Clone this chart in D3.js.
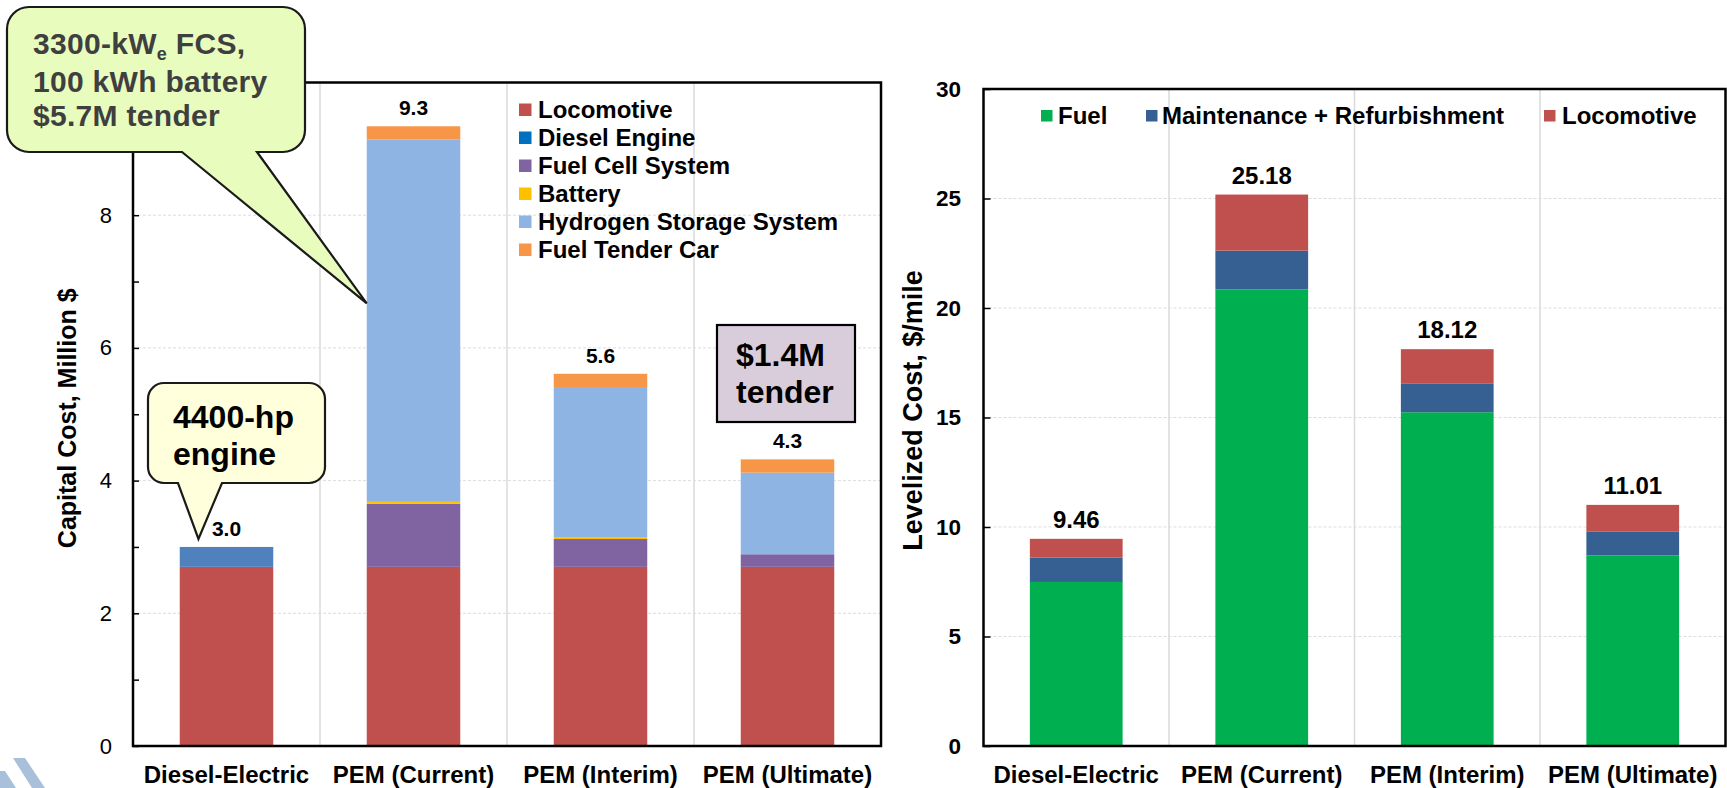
<!DOCTYPE html>
<html>
<head>
<meta charset="utf-8">
<script src="https://cdn.jsdelivr.net/npm/d3@7"></script>
<style>
  html, body { margin: 0; padding: 0; background: #fff; }
  svg { display: block; font-family: "Liberation Sans", Arial, Helvetica, sans-serif; }
</style>
</head>
<body>
<svg id="chart" width="1727" height="788"></svg>
<script>
// ---------- data ----------
const categories = ["Diesel-Electric", "PEM (Current)", "PEM (Interim)", "PEM (Ultimate)"];

// capital cost components, million $
const capitalSeries = ["Locomotive", "Diesel Engine", "Fuel Cell System", "Battery", "Hydrogen Storage System", "Fuel Tender Car"];
const locomotiveCap = [2.70, 2.70, 2.70, 2.70];
const dieselEngineCap = [0.30, 0, 0, 0];
const fuelCellCap = [0, 0.95, 0.42, 0.19];
const batteryCap = [0, 0.03, 0.02, 0];
const h2StorageCap = [0, 5.46, 2.27, 1.23];
const tenderCarCap = [0, 0.20, 0.20, 0.20];
const capitalTicks = [0, 2, 4, 6, 8];
const capitalMinorTicks = [1, 3, 5, 7, 9];

// levelized cost components, $/mile
const levelizedSeries = ["Fuel", "Maintenance + Refurbishment", "Locomotive"];
const fuelLev = [7.49, 20.85, 15.24, 8.70];
const maintenanceLev = [1.12, 1.77, 1.32, 1.10];
const locomotiveLev = [0.85, 2.56, 1.56, 1.21];
const levelizedTicks = [0, 5, 10, 15, 20, 25, 30];

// ---------- styles ----------
const capitalColors = {
  "Locomotive": "#C0504D",
  "Diesel Engine": "#4F81BD",
  "Fuel Cell System": "#8064A2",
  "Battery": "#FFC000",
  "Hydrogen Storage System": "#8EB4E3",
  "Fuel Tender Car": "#F79646"
};
const capitalSwatch = Object.assign({}, capitalColors, { "Diesel Engine": "#0070C0" });
const levelizedColors = {
  "Fuel": "#00B050",
  "Maintenance + Refurbishment": "#376092",
  "Locomotive": "#C0504D"
};

const svg = d3.select("#chart");
svg.append("rect").attr("width", 1727).attr("height", 788).attr("fill", "#fff");

// faint logo corner
const logo = svg.append("g").attr("fill", "#A8C0DA");
logo.append("polygon").attr("points", "13,758 25,758 45,788 32,788");
logo.append("polygon").attr("points", "0,771 5,771 16,788 0,788");

// ---------- tables ----------
const capitalTable = categories.map((c, i) => ({
  category: c,
  "Locomotive": locomotiveCap[i],
  "Diesel Engine": dieselEngineCap[i],
  "Fuel Cell System": fuelCellCap[i],
  "Battery": batteryCap[i],
  "Hydrogen Storage System": h2StorageCap[i],
  "Fuel Tender Car": tenderCarCap[i]
}));
const levelizedTable = categories.map((c, i) => ({
  category: c,
  "Fuel": fuelLev[i],
  "Maintenance + Refurbishment": maintenanceLev[i],
  "Locomotive": locomotiveLev[i]
}));

// ---------- generic stacked panel ----------
function drawPanel(cfg) {
  const g = svg.append("g");
  const x = d3.scaleBand().domain(categories)
    .range([cfg.left, cfg.right]).paddingInner(0.5).paddingOuter(0.25);
  const y = d3.scaleLinear().domain(cfg.domain).range([cfg.bottom, cfg.top]);
  const step = x.step();

  // gridlines
  const grid = g.append("g");
  grid.selectAll("line.h").data(cfg.ticks.filter(t => t > cfg.domain[0] && t < cfg.domain[1]))
    .join("line").attr("class", "h")
    .attr("x1", cfg.left).attr("x2", cfg.right)
    .attr("y1", d => y(d)).attr("y2", d => y(d))
    .attr("stroke", "#DDDDDD").attr("stroke-width", 1).attr("stroke-dasharray", "3,2");
  grid.selectAll("line.v").data(categories.slice(1))
    .join("line").attr("class", "v")
    .attr("x1", d => x(d) - step * 0.25).attr("x2", d => x(d) - step * 0.25)
    .attr("y1", cfg.top).attr("y2", cfg.bottom)
    .attr("stroke", "#DADADA").attr("stroke-width", 1.5);

  // stacked bars
  const layers = d3.stack().keys(cfg.keys)(cfg.table);
  g.append("g").selectAll("g").data(layers).join("g")
    .attr("fill", d => cfg.colors[d.key])
    .selectAll("rect").data(d => d.filter(v => v[1] - v[0] > 0)).join("rect")
    .attr("x", d => x(d.data.category))
    .attr("width", x.bandwidth())
    .attr("y", d => y(d[1]))
    .attr("height", d => y(d[0]) - y(d[1]));

  // axis ticks and labels
  const axis = g.append("g").attr("transform", `translate(${cfg.left},0)`)
    .call(d3.axisLeft(y).tickValues(cfg.ticks).tickSize(-cfg.tickLen).tickPadding(cfg.tickPad));
  axis.select(".domain").remove();
  axis.selectAll(".tick line").attr("stroke", "#000").attr("stroke-width", 1.5);
  axis.selectAll(".tick text")
    .attr("font-family", null)
    .attr("font-size", cfg.tickFont)
    .attr("font-weight", cfg.tickWeight)
    .attr("fill", "#000");
  if (cfg.minorTicks) {
    const minor = g.append("g").attr("transform", `translate(${cfg.left},0)`)
      .call(d3.axisLeft(y).tickValues(cfg.minorTicks).tickSize(-cfg.tickLen).tickFormat(""));
    minor.select(".domain").remove();
    minor.selectAll(".tick line").attr("stroke", "#000").attr("stroke-width", 1.5);
  }

  // frame
  g.append("rect")
    .attr("x", cfg.left).attr("y", cfg.top)
    .attr("width", cfg.right - cfg.left).attr("height", cfg.bottom - cfg.top)
    .attr("fill", "none").attr("stroke", "#000").attr("stroke-width", 2.5);

  // category labels
  g.append("g").selectAll("text").data(categories).join("text")
    .attr("x", d => x(d) + x.bandwidth() / 2)
    .attr("y", 783)
    .attr("text-anchor", "middle")
    .attr("font-size", 24).attr("font-weight", "bold").attr("fill", "#000")
    .text(d => d);

  // totals above bars
  g.append("g").selectAll("text").data(cfg.table).join("text")
    .attr("x", d => x(d.category) + x.bandwidth() / 2)
    .attr("y", d => y(d3.sum(cfg.keys, k => d[k])) - 11)
    .attr("text-anchor", "middle")
    .attr("font-size", cfg.valueFont).attr("font-weight", "bold").attr("fill", "#000")
    .text(d => d3.sum(cfg.keys, k => d[k]).toFixed(cfg.decimals));

  // axis title
  g.append("text")
    .attr("transform", `translate(${cfg.titleX},${(cfg.top + cfg.bottom) / 2 + cfg.titleShift}) rotate(-90)`)
    .attr("text-anchor", "middle")
    .attr("font-size", cfg.titleFont).attr("font-weight", "bold").attr("fill", "#000")
    .text(cfg.title);

  return { x, y, g };
}

// ---------- capital cost panel ----------
const left = drawPanel({
  left: 133, right: 881, top: 82.5, bottom: 746,
  domain: [0, 10], ticks: capitalTicks, minorTicks: capitalMinorTicks,
  tickLen: 6, tickPad: 21, tickFont: 22, tickWeight: "normal",
  keys: capitalSeries, colors: capitalColors, table: capitalTable,
  valueFont: 21, decimals: 1,
  title: "Capital Cost, Million $", titleX: 76, titleFont: 25, titleShift: 4
});

// legend
const legL = svg.append("g");
capitalSeries.forEach((s, i) => {
  const cy = 110 + i * 28;
  legL.append("rect").attr("x", 519).attr("y", cy - 6.5).attr("width", 12.5).attr("height", 12.5)
    .attr("fill", capitalSwatch[s]);
  legL.append("text").attr("x", 538).attr("y", cy + 8)
    .attr("font-size", 24).attr("font-weight", "bold").attr("fill", "#000").text(s);
});

// ---------- levelized cost panel ----------
const right = drawPanel({
  left: 983.5, right: 1725.5, top: 89, bottom: 746,
  domain: [0, 30], ticks: levelizedTicks, minorTicks: null,
  tickLen: 7, tickPad: 22.5, tickFont: 22.5, tickWeight: "bold",
  keys: levelizedSeries, colors: levelizedColors, table: levelizedTable,
  valueFont: 24, decimals: 2,
  title: "Levelized Cost, $/mile", titleX: 922, titleFont: 27, titleShift: -7
});

const legR = svg.append("g");
const legRX = [[1041, 1058], [1146, 1162], [1544, 1562]];
levelizedSeries.forEach((s, i) => {
  legR.append("rect").attr("x", legRX[i][0]).attr("y", 110).attr("width", 11.5).attr("height", 11.5)
    .attr("fill", levelizedColors[s]);
  legR.append("text").attr("x", legRX[i][1]).attr("y", 123.5)
    .attr("font-size", 24).attr("font-weight", "bold").attr("fill", "#000").text(s);
});

// ---------- annotations ----------
function calloutPath(x0, y0, x1, y1, r, b1, b2, tip) {
  const p = d3.path();
  p.moveTo(x0 + r, y0);
  p.lineTo(x1 - r, y0);
  p.arcTo(x1, y0, x1, y0 + r, r);
  p.lineTo(x1, y1 - r);
  p.arcTo(x1, y1, x1 - r, y1, r);
  p.lineTo(b2, y1);
  p.lineTo(tip[0], tip[1]);
  p.lineTo(b1, y1);
  p.lineTo(x0 + r, y1);
  p.arcTo(x0, y1, x0, y1 - r, r);
  p.lineTo(x0, y0 + r);
  p.arcTo(x0, y0, x0 + r, y0, r);
  p.closePath();
  return p.toString();
}

const ann = svg.append("g");

// fuel-cell configuration note pointing at the current PEM bar
const tipCurrent = [left.x("PEM (Current)"), left.y(6.67)];
ann.append("path")
  .attr("d", calloutPath(7, 7, 305, 152, 22, 182, 257, tipCurrent))
  .attr("fill", "#E8FCBE").attr("stroke", "#1A1A1A").attr("stroke-width", 2.2);
const noteA = ann.append("g").attr("font-size", 30).attr("font-weight", "bold")
  .attr("fill", "#3F3F3F").attr("letter-spacing", 0.3);
const lineA1 = noteA.append("text").attr("x", 33).attr("y", 54);
lineA1.append("tspan").text("3300-kW");
lineA1.append("tspan").attr("font-size", 18).attr("dy", 6).text("e");
lineA1.append("tspan").attr("dy", -6).text(" FCS,");
noteA.append("text").attr("x", 33).attr("y", 92).text("100 kWh battery");
noteA.append("text").attr("x", 33).attr("y", 126).text("$5.7M tender");

// diesel engine note
const tipDiesel = [left.x("Diesel-Electric") + left.x.bandwidth() * 0.2, left.y(3.12)];
ann.append("path")
  .attr("d", calloutPath(148, 383, 325, 483, 16, 178, 222, tipDiesel))
  .attr("fill", "#FFFFDB").attr("stroke", "#1A1A1A").attr("stroke-width", 2.2);
const noteB = ann.append("g").attr("font-size", 32).attr("font-weight", "bold").attr("fill", "#000");
noteB.append("text").attr("x", 173).attr("y", 428).text("4400-hp");
noteB.append("text").attr("x", 173).attr("y", 465).text("engine");

// tender cost box
ann.append("rect").attr("x", 717).attr("y", 325).attr("width", 138).attr("height", 97)
  .attr("fill", "#D9CDDB").attr("stroke", "#000").attr("stroke-width", 2.2);
const noteC = ann.append("g").attr("font-size", 32).attr("font-weight", "bold").attr("fill", "#000");
noteC.append("text").attr("x", 736).attr("y", 366).text("$1.4M");
noteC.append("text").attr("x", 736).attr("y", 403).text("tender");
</script>
</body>
</html>
